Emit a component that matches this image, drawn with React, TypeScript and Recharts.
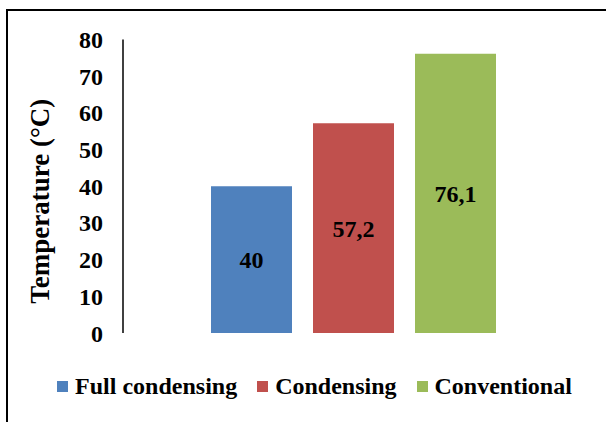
import React from 'react';
import { BarChart, Bar, XAxis, YAxis, Legend, LabelList } from 'recharts';

const categories = ['Full condensing', 'Condensing', 'Conventional'];
const temperatures = [40, 57.2, 76.1];
const colors = ['#4F81BD', '#C0504D', '#9BBB59'];
const yTicks = [0, 10, 20, 30, 40, 50, 60, 70, 80];

const keys = ['full', 'cond', 'conv'];
const row: Record<string, number | string> = { name: '' };
keys.forEach((k, i) => { row[k] = temperatures[i]; });
const data = [row];

const FONT = '"Liberation Serif", "Times New Roman", serif';

const fmt = (v: any) => String(v).replace('.', ',');

const LegendContent = ({ payload }: any) => (
  <div style={{ display: 'flex', justifyContent: 'center', alignItems: 'center', paddingLeft: 23, fontFamily: FONT, fontWeight: 'bold', fontSize: 24, lineHeight: '26px', color: '#000' }}>
    {(payload || []).map((p: any, i: number) => (
      <div key={i} style={{ display: 'flex', alignItems: 'center', marginRight: i < 2 ? 20 : 0 }}>
        <span style={{ width: 11, height: 11, background: p.color, marginRight: 7, display: 'inline-block' }} />
        <span>{p.value}</span>
      </div>
    ))}
  </div>
);

const YTitle = ({ viewBox }: any) => {
  const cx = viewBox.x + 40;
  const cy = viewBox.y + viewBox.height / 2 + 15;
  return (
    <text x={cx} y={cy} transform={`rotate(-90 ${cx} ${cy})`} textAnchor="middle" dominantBaseline="central"
      fontFamily={FONT} fontWeight="bold" fontSize={27} fill="#000">
      Temperature (°C)
    </text>
  );
};

export default function App() {
  return (
    <div style={{ position: 'absolute', left: 0, top: 0, width: 606, height: 422, overflow: 'hidden', background: '#fff' }}>
      <div style={{ position: 'absolute', left: 6, top: 9, width: 700, height: 500, borderTop: '2px solid #000', borderLeft: '2px solid #000' }} />
      <div style={{ position: 'absolute', left: 0, top: 0 }}>
        <BarChart width={606} height={422} data={data} margin={{ top: 39.5, right: 23, left: 0, bottom: 63 }}
          barGap={21} barSize={81}>
          <XAxis dataKey="name" tick={false} tickLine={false} height={0} axisLine={{ stroke: '#d9d9d9', strokeWidth: 1.5 }} />
          <YAxis domain={[0, 80]} ticks={yTicks} width={123} interval={0} tickLine={false} tickMargin={14}
            axisLine={{ stroke: '#000', strokeWidth: 1.5 }}
            tick={{ fill: '#000', fontFamily: FONT, fontWeight: 'bold', fontSize: 24 }}
            label={<YTitle />} />
          <Legend verticalAlign="bottom" content={<LegendContent />}
            itemSorter={(item: any) => categories.indexOf(item.value)}
            wrapperStyle={{ left: 0, width: 606, bottom: 23 }} />
          {keys.map((k, i) => (
            <Bar key={k} dataKey={k} name={categories[i]} fill={colors[i]} isAnimationActive={false}>
              <LabelList dataKey={k} position="center" formatter={fmt}
                style={{ fill: '#000', fontFamily: FONT, fontWeight: 'bold', fontSize: 24 }} />
            </Bar>
          ))}
        </BarChart>
      </div>
    </div>
  );
}
